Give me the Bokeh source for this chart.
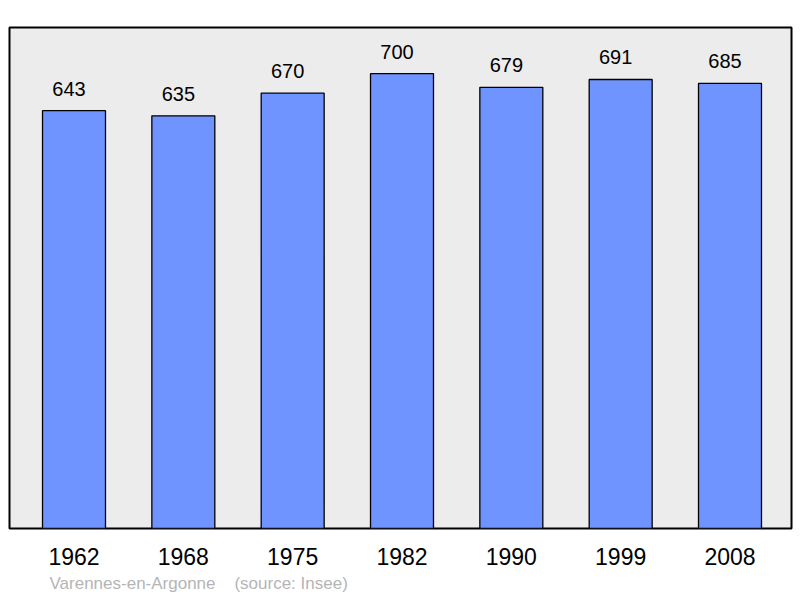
from bokeh.plotting import figure
from bokeh.models import ColumnDataSource, Range1d, FixedTicker, Title
from bokeh.core.properties import value
from bokeh.embed import file_html
from bokeh.resources import INLINE

years = ["1962", "1968", "1975", "1982", "1990", "1999", "2008"]
population = [643, 635, 670, 700, 679, 691, 685]
caption = "Varennes-en-Argonne\u00a0\u00a0\u00a0\u00a0(source: Insee)"

xs = list(range(len(years)))
src = ColumnDataSource(dict(x=xs, top=population, label=[str(v) for v in population]))

p = figure(width=800, height=598, output_backend="svg", toolbar_location=None,
           x_range=Range1d(-0.590, 6.5625), y_range=Range1d(0, 771),
           min_border_top=27, min_border_left=9, min_border_right=9, min_border_bottom=70)

p.background_fill_color = "#ececec"
p.border_fill_color = "white"
p.outline_line_color = "black"
p.outline_line_width = 2
p.xgrid.visible = False
p.ygrid.visible = False
p.yaxis.visible = False

p.vbar(x="x", top="top", bottom=0, width=0.576, source=src,
       fill_color="#7094ff", line_color="black", line_width=1.3)
p.text(x="x", y="top", text="label", source=src, x_offset=-5, y_offset=-22,
       text_align="center", text_baseline="alphabetic",
       text_font=value("Liberation Sans"), text_font_size="20px", text_color="black")

ax = p.xaxis[0]
ax.ticker = FixedTicker(ticks=xs)
ax.major_label_overrides = {i: y for i, y in enumerate(years)}
ax.axis_line_color = None
ax.major_tick_line_color = None
ax.minor_tick_line_color = None
ax.major_tick_out = 0
ax.major_tick_in = 0
ax.major_label_standoff = 19
ax.major_label_text_font = "Liberation Sans"
ax.major_label_text_font_size = "23px"
ax.major_label_text_color = "black"

t = Title(text=caption, align="left", offset=40, text_font="Liberation Sans",
          text_font_size="17px", text_font_style="normal", text_color="#b5b5b5",
          standoff=9)
p.add_layout(t, "below")

open("out.html", "w").write(file_html(p, INLINE))
